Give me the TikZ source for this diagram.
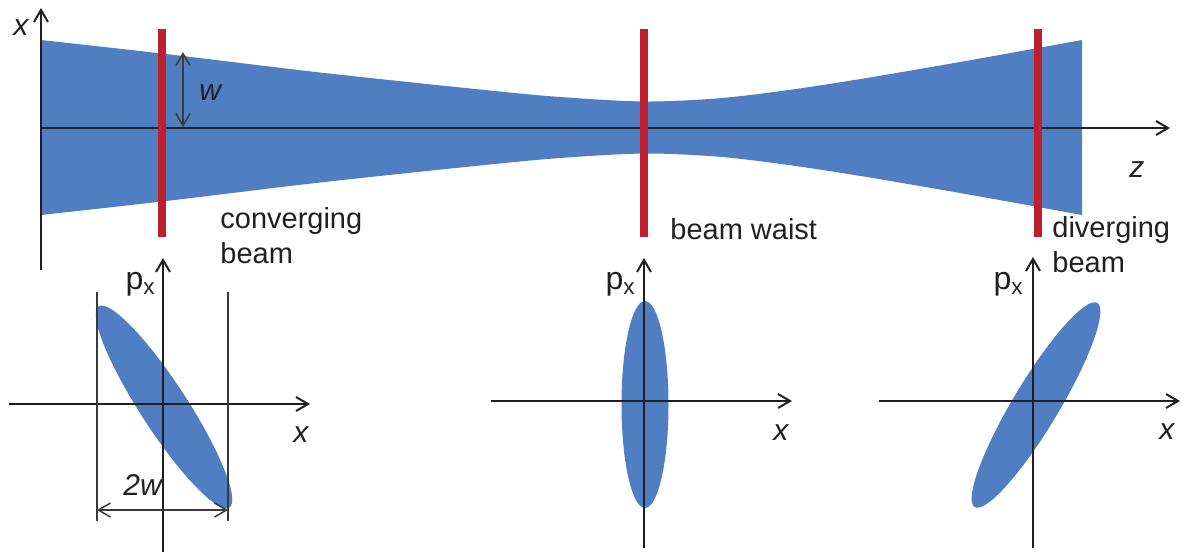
\documentclass[tikz,border=0pt]{standalone}
\usepackage{fontspec}
\setmainfont{Liberation Sans}
\usetikzlibrary{arrows.meta}
\begin{document}
\begin{tikzpicture}[x=0.5pt,y=-0.5pt,font=\fontsize{14.5}{17.5}\selectfont]
\definecolor{ink}{HTML}{231F20}\definecolor{inkii}{HTML}{3A3A3A}
\definecolor{beam}{HTML}{4F7EC2}\definecolor{screen}{HTML}{BE1E2D}
\tikzset{axis/.style={ink,line width=1pt,-{Straight Barb[length=6pt,width=7pt]}},
  dim/.style={inkii,line width=0.75pt,{Straight Barb[length=6pt,width=7pt]}-{Straight Barb[length=6pt,width=7pt]}},
  guide/.style={inkii,line width=0.6pt},
  lbl/.style={inner sep=0pt,anchor=base west,text=ink},
  sym/.style={lbl,font=\fontsize{15}{18}\selectfont\itshape},
  mom/.style={lbl,anchor=base east,font=\fontsize{16}{19}\selectfont}}
\useasboundingbox (0,0) rectangle (1184,553);
% beam envelope along z
\fill[beam] plot[smooth] coordinates {(41,40) (166,54) (320,72.5) (480,89.5) (560,97) (645,101.5)
    (720,98.2) (790,89.8) (860,79.1) (940,65.5) (1010,53.1) (1082,40)}
  -- plot[smooth] coordinates {(1082,215) (1010,201.9) (940,189.5) (860,175.9) (790,165.2)
    (720,156.8) (645,153.5) (560,158) (480,165.5) (320,182.5) (166,201) (41,215)} -- cycle;
% top axes
\coordinate (xbot) at (41,270);
\coordinate (xtop) at (41,8);
\coordinate (zorg) at (41,128);
\coordinate (zend) at (1170,128);
\draw[axis] (xbot) -- (xtop);
\draw[axis] (zorg) -- (zend);
\node[sym] (xlab) at (13,35) {x};
\node[sym] (zlab) at (1129,177) {z};
% screens
\fill[screen] (158,29) rectangle (166,237);
\fill[screen] (640,29) rectangle (648,237);
\fill[screen] (1034,29) rectangle (1042,237);
% beam radius
\coordinate (wtop) at (183,52);
\coordinate (wbot) at (183,127);
\draw[dim] (wtop) -- (wbot);
\node[sym] (wlab) at (199,100) {w};
\node[lbl] (conv) at (220,228) {converging};
\node[lbl] (convb) at (220,263) {beam};
\node[lbl] (waist) at (670,239) {beam waist};
\node[lbl] (div) at (1052,237) {diverging};
\node[lbl] (divb) at (1052,272) {beam};
% phase space, converging
\fill[beam] (164,407) ellipse[x radius=60pt,y radius=11.75pt,rotate=-57];
\coordinate (ai) at (9,404);
\coordinate (bi) at (310,404);
\coordinate (ci) at (163,552);
\coordinate (di) at (163,258);
\draw[axis] (ai) -- (bi);
\draw[axis] (ci) -- (di);
\coordinate (gl) at (97,292);
\coordinate (gll) at (97,521);
\coordinate (gr) at (228,292);
\coordinate (grr) at (228,521);
\draw[guide] (gl) -- (gll);
\draw[guide] (gr) -- (grr);
\coordinate (tl) at (97,510);
\coordinate (tr) at (228,510);
\draw[dim] (tl) -- (tr);
\node[sym] (twow) at (123,495) {2w};
\node[mom] (pxi) at (156,289) {p\textsubscript{x}};
\node[sym] (xi) at (293,442) {x};
% phase space, waist
\fill[beam] (645,404.5) ellipse[x radius=11.75pt,y radius=51.75pt];
\coordinate (aii) at (491,401);
\coordinate (bii) at (792,401);
\coordinate (cii) at (644,548);
\coordinate (dii) at (644,258);
\draw[axis] (aii) -- (bii);
\draw[axis] (cii) -- (dii);
\node[mom] (pxii) at (636,289) {p\textsubscript{x}};
\node[sym] (xii) at (773,440) {x};
% phase space, diverging
\fill[beam] (1036,405) ellipse[x radius=59.5pt,y radius=11.5pt,rotate=59];
\coordinate (aiii) at (879,401);
\coordinate (biii) at (1180,401);
\coordinate (ciii) at (1033,548);
\coordinate (diii) at (1033,257);
\draw[axis] (aiii) -- (biii);
\draw[axis] (ciii) -- (diii);
\node[mom] (pxiii) at (1024,289) {p\textsubscript{x}};
\node[sym] (xiii) at (1159,439) {x};
\end{tikzpicture}
\end{document}
